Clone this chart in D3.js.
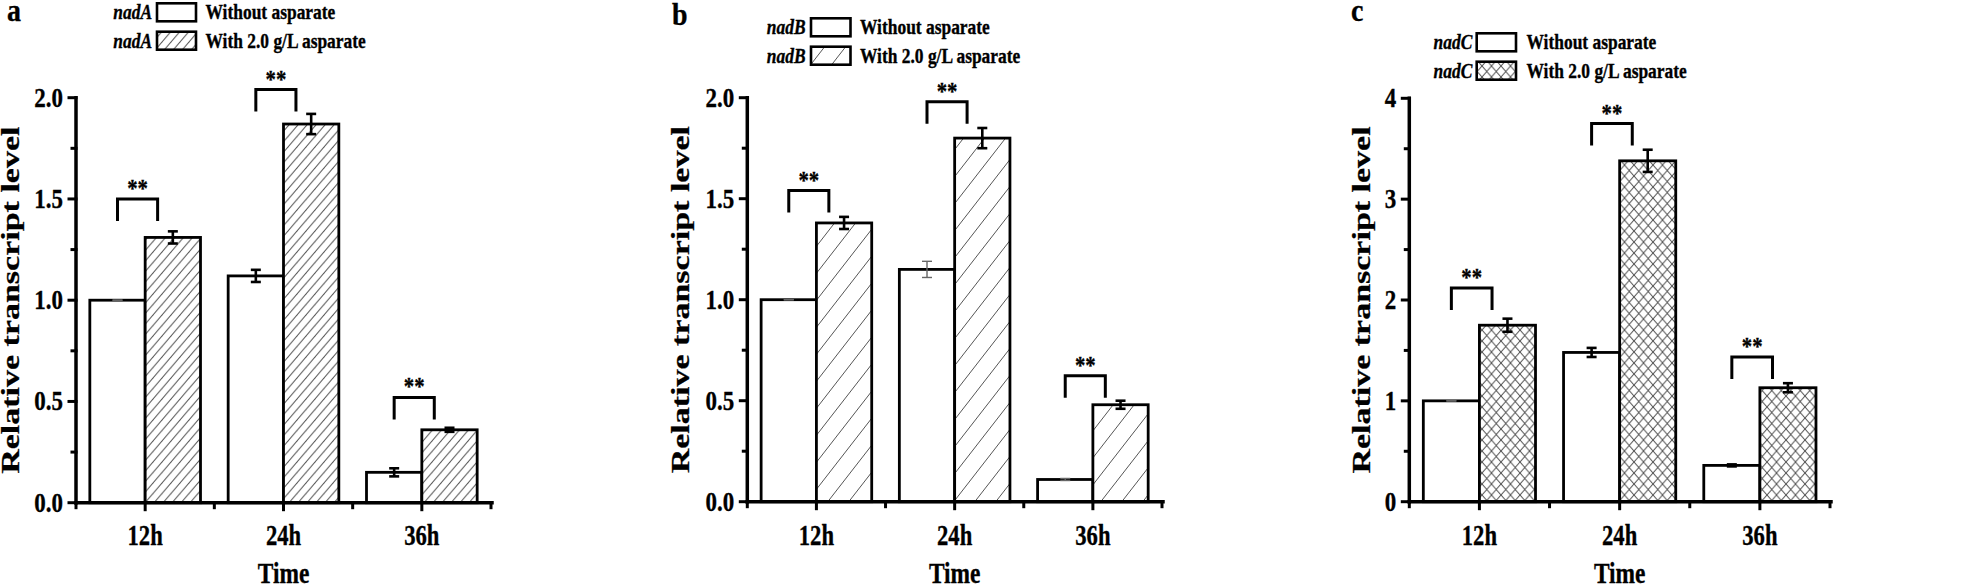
<!DOCTYPE html>
<html>
<head>
<meta charset="utf-8">
<script src="https://cdn.jsdelivr.net/npm/d3@7"></script>
<style>
  html, body { margin: 0; padding: 0; background: #fff; }
  svg { display: block; }
</style>
</head>
<body>
<svg id="chart" width="1961" height="587"></svg>
<script>
// ---------------- DATA ----------------
const categories = ["12h", "24h", "36h"];
const seriesNames = ["Without asparate", "With 2.0 g/L asparate"];
const genes = ["nadA", "nadB", "nadC"];
const panelLetters = ["a", "b", "c"];

const nadA_without     = [1.00, 1.12, 0.15];
const nadA_without_err = [0.00, 0.03, 0.02];
const nadA_with        = [1.31, 1.87, 0.36];
const nadA_with_err    = [0.03, 0.05, 0.01];

const nadB_without     = [1.00, 1.15, 0.11];
const nadB_without_err = [0.00, 0.04, 0.005];
const nadB_with        = [1.38, 1.80, 0.48];
const nadB_with_err    = [0.03, 0.05, 0.02];

const nadC_without     = [1.00, 1.48, 0.36];
const nadC_without_err = [0.00, 0.045, 0.01];
const nadC_with        = [1.75, 3.38, 1.13];
const nadC_with_err    = [0.065, 0.11, 0.045];

const yTickLabelsAB = ["0.0", "0.5", "1.0", "1.5", "2.0"];
const yTickValuesAB = [0, 0.5, 1.0, 1.5, 2.0];
const yTickLabelsC  = ["0", "1", "2", "3", "4"];
const yTickValuesC  = [0, 1, 2, 3, 4];

const sigLabels = ["**", "**", "**"];
const bracketA = [1.50, 2.04, 0.52];
const bracketB = [1.54, 1.98, 0.624];
const bracketC = [2.12, 3.75, 1.436];

const yTitle = "Relative transcript level";
const xTitle = "Time";

// ---------------- LAYOUT / STYLE ----------------
const FONT = "'Liberation Serif', 'Times New Roman', serif";
const SX = 0.8; // horizontal squeeze of the original figure's text

const svg = d3.select("#chart");
const defs = svg.append("defs");

function hatchPattern(id, w, h, cross) {
  const p = defs.append("pattern").attr("id", id)
    .attr("patternUnits", "userSpaceOnUse")
    .attr("width", w).attr("height", h);
  p.append("rect").attr("width", w).attr("height", h).attr("fill", "#fff");
  const ls = (x1, y1, x2, y2) => p.append("line")
    .attr("x1", x1).attr("y1", y1).attr("x2", x2).attr("y2", y2)
    .attr("stroke", "#555").attr("stroke-width", 1);
  ls(-w * 0.2, h * 1.2, w * 1.2, -h * 0.2);
  ls(-w * 1.2, h * 1.2, w * 0.2, -h * 0.2);
  ls(w * 0.8, h * 1.2, w * 2.2, -h * 0.2);
  if (cross) {
    ls(-w * 0.2, -h * 0.2, w * 1.2, h * 1.2);
    ls(-w * 1.2, -h * 0.2, w * 0.2, h * 1.2);
    ls(w * 0.8, -h * 0.2, w * 2.2, h * 1.2);
  }
}
hatchPattern("hatchA", 9, 10.5, false);
hatchPattern("hatchB", 21, 27, false);
hatchPattern("hatchC", 9.5, 11, true);

function text(g, x, y, str, o) {
  const t = g.append("text")
    .attr("transform", `translate(${x},${y}) scale(${o.sx ?? SX},1)` + (o.rot ? ` rotate(${o.rot})` : ""))
    .attr("font-family", FONT)
    .attr("font-weight", o.weight ?? "bold")
    .attr("font-style", o.italic ? "italic" : "normal")
    .attr("font-size", o.size)
    .attr("text-anchor", o.anchor ?? "start")
    .attr("fill", "#000")
    .attr("stroke", "#000").attr("stroke-width", 0.35)
    .text(str);
  return t;
}

const panels = [
  { letter: panelLetters[0], gene: genes[0], without: nadA_without, withoutErr: nadA_without_err,
    withV: nadA_with, withErr: nadA_with_err, brackets: bracketA,
    yTicks: yTickValuesAB, yLabels: yTickLabelsAB, ymax: 2, minorStep: 0.25,
    x0: 76, x1: 491, yTop: 97.7, yBot: 502.7, pattern: "hatchA",
    letterPos: [7, 21], yTitleX: 19,
    legend: { geneRight: 152, boxX: 157, boxW: 39, textX: 205.5, rows: [19.3, 47.7] } },
  { letter: panelLetters[1], gene: genes[1], without: nadB_without, withoutErr: nadB_without_err,
    withV: nadB_with, withErr: nadB_with_err, brackets: bracketB,
    yTicks: yTickValuesAB, yLabels: yTickLabelsAB, ymax: 2, minorStep: 0.25,
    x0: 747.3, x1: 1162, yTop: 97.7, yBot: 501.7, pattern: "hatchB",
    letterPos: [672, 25], yTitleX: 688.5,
    legend: { geneRight: 805.5, boxX: 811, boxW: 39.5, textX: 860, rows: [34.3, 62.7] } },
  { letter: panelLetters[2], gene: genes[2], without: nadC_without, withoutErr: nadC_without_err,
    withV: nadC_with, withErr: nadC_with_err, brackets: bracketC,
    yTicks: yTickValuesC, yLabels: yTickLabelsC, ymax: 4, minorStep: 0.5,
    x0: 1409.3, x1: 1830, yTop: 98.3, yBot: 501.7, pattern: "hatchC",
    letterPos: [1351, 21], yTitleX: 1369.5,
    legend: { geneRight: 1472.3, boxX: 1476.7, boxW: 39.3, textX: 1526.5, rows: [49.3, 77.7] } }
];

const thinErr = { "b-1-0": true };

panels.forEach(P => {
  const g = svg.append("g");
  const x = d3.scaleBand().domain(categories).range([P.x0, P.x1]).padding(0);
  const bw = x.bandwidth();
  const sub = d3.scaleBand().domain([0, 1]).range([0.1 * bw, 0.9 * bw]).padding(0);
  const y = d3.scaleLinear().domain([0, P.ymax]).range([P.yBot, P.yTop]);

  const rows = categories.map((c, i) => [
    { c, s: 0, v: P.without[i], e: P.withoutErr[i], i },
    { c, s: 1, v: P.withV[i], e: P.withErr[i], i }
  ]).flat();

  // bars
  g.selectAll("rect.bar").data(rows).join("rect")
    .attr("class", "bar")
    .attr("x", d => x(d.c) + sub(d.s))
    .attr("y", d => y(d.v))
    .attr("width", sub.bandwidth())
    .attr("height", d => y(0) - y(d.v))
    .attr("fill", d => d.s === 0 ? "#fff" : `url(#${P.pattern})`)
    .attr("stroke", "#000").attr("stroke-width", 2.8);

  // error bars
  rows.forEach(d => {
    const cx = x(d.c) + sub(d.s) + sub.bandwidth() / 2;
    const thin = thinErr[`${P.letter}-${d.i}-${d.s}`] || d.e <= 0.005;
    const col = thin ? "#666" : "#000";
    const sw = thin ? 1.4 : 2.6;
    const hw = 5;
    const eg = g.append("g").attr("stroke", col).attr("stroke-width", sw);
    eg.append("line").attr("x1", cx).attr("x2", cx).attr("y1", y(d.v + d.e)).attr("y2", y(d.v - d.e));
    eg.append("line").attr("x1", cx - hw).attr("x2", cx + hw).attr("y1", y(d.v + d.e)).attr("y2", y(d.v + d.e));
    eg.append("line").attr("x1", cx - hw).attr("x2", cx + hw).attr("y1", y(d.v - d.e)).attr("y2", y(d.v - d.e));
  });

  // significance brackets
  categories.forEach((c, i) => {
    const xl = x(c) + sub(0) + sub.bandwidth() / 2;
    const xr = x(c) + sub(1) + sub.bandwidth() / 2 - 0.11 * bw;
    const yt = y(P.brackets[i]);
    g.append("path")
      .attr("d", `M${xl},${yt + 22}V${yt}H${xr}V${yt + 22}`)
      .attr("fill", "none").attr("stroke", "#000").attr("stroke-width", 3);
    text(g, (xl + xr) / 2, yt - 2, sigLabels[i], { size: 26, anchor: "middle" });
  });

  // axes
  const ax = g.append("g").attr("stroke", "#000").attr("stroke-linecap", "square");
  ax.append("line").attr("x1", P.x0).attr("x2", P.x0).attr("y1", y(0)).attr("y2", y(P.ymax)).attr("stroke-width", 3.5);
  ax.append("line").attr("x1", P.x0).attr("x2", P.x1 + 1).attr("y1", y(0)).attr("y2", y(0)).attr("stroke-width", 3.5);
  // y ticks
  P.yTicks.forEach((t, k) => {
    ax.append("line").attr("x1", P.x0).attr("x2", P.x0 - 7).attr("y1", y(t)).attr("y2", y(t)).attr("stroke-width", 3);
    text(g, P.x0 - 13, y(t) + 9, P.yLabels[k], { size: 27, anchor: "end", sx: 0.85 });
  });
  d3.range(P.minorStep, P.ymax, P.minorStep * 2).forEach(t => {
    ax.append("line").attr("x1", P.x0).attr("x2", P.x0 - 4).attr("y1", y(t)).attr("y2", y(t)).attr("stroke-width", 3);
  });
  // x ticks
  categories.forEach(c => {
    const cx = x(c) + bw / 2;
    ax.append("line").attr("x1", cx).attr("x2", cx).attr("y1", y(0)).attr("y2", y(0) + 7).attr("stroke-width", 3);
    text(g, cx, 545, c, { size: 29, anchor: "middle", sx: 0.78 });
  });
  [0, 1, 2, 3].forEach(k => {
    const xx = P.x0 + k * bw;
    ax.append("line").attr("x1", xx).attr("x2", xx).attr("y1", y(0)).attr("y2", y(0) + 5).attr("stroke-width", 3);
  });

  // axis titles
  text(g, (P.x0 + P.x1) / 2, 583, xTitle, { size: 30, anchor: "middle", sx: 0.78 });
  text(g, P.yTitleX, (P.yTop + P.yBot) / 2, yTitle, { size: 34, anchor: "middle", sx: 0.74, rot: -90 });

  // panel letter
  text(g, P.letterPos[0], P.letterPos[1], P.letter, { size: 31, sx: 0.9 });

  // legend
  const L = P.legend;
  seriesNames.forEach((s, k) => {
    const base = L.rows[k];
    text(g, L.geneRight, base, P.gene, { size: 21, anchor: "end", italic: true, sx: 0.83 });
    g.append("rect").attr("x", L.boxX).attr("y", base - 16).attr("width", L.boxW).attr("height", 18)
      .attr("fill", k === 0 ? "#fff" : `url(#${P.pattern})`)
      .attr("stroke", "#000").attr("stroke-width", 2.6);
    text(g, L.textX, base, s, { size: 21, sx: 0.83 });
  });
});
</script>
</body>
</html>
